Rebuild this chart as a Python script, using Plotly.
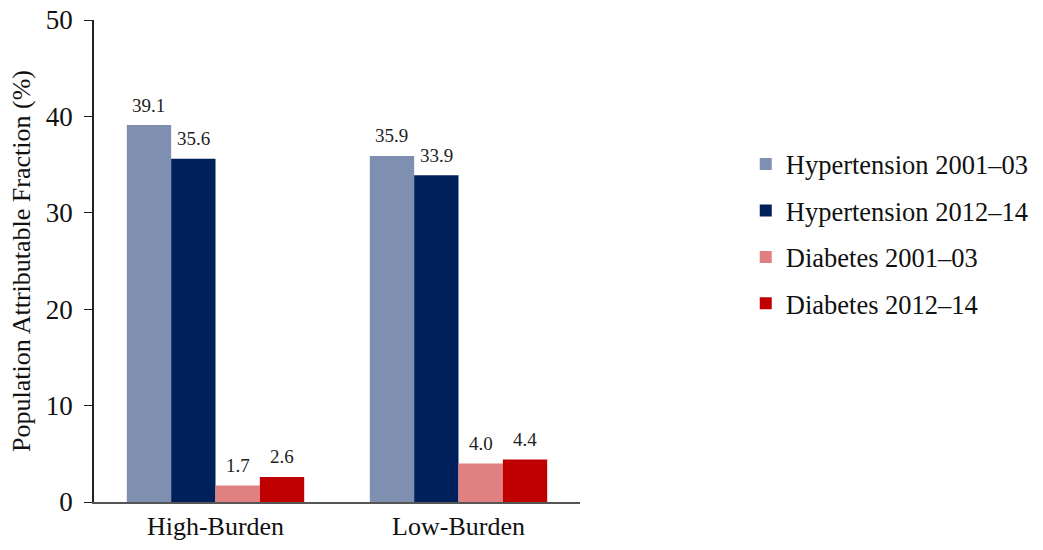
import plotly.graph_objects as go

categories = ["High-Burden", "Low-Burden"]
series_names = ["Hypertension 2001\u201303", "Hypertension 2012\u201314",
                "Diabetes 2001\u201303", "Diabetes 2012\u201314"]
hyp_2001 = [39.1, 35.9]
hyp_2012 = [35.6, 33.9]
dia_2001 = [1.7, 4.0]
dia_2012 = [2.6, 4.4]
colors = ["#7f8fb0", "#00205b", "#e08080", "#c00000"]
y_ticks = [0, 10, 20, 30, 40, 50]

FONT = "Liberation Serif, Times New Roman, serif"
PLOT_W = 1043 - 94 - 463
BARGAP = 0.27
bar_px = PLOT_W / len(categories) * (1 - BARGAP) / len(series_names)

fig = go.Figure()
all_series = [hyp_2001, hyp_2012, dia_2001, dia_2012]
for i, (name, vals) in enumerate(zip(series_names, all_series)):
    fig.add_trace(go.Bar(
        x=categories, y=vals, name=name, legendgroup=name,
        marker=dict(color=colors[i], line=dict(width=0)),
        cliponaxis=False,
    ))
    # value labels floating above each bar
    for cat, v in zip(categories, vals):
        fig.add_annotation(
            x=cat, y=v, xref="x", yref="y",
            text=f"{v:.1f}", showarrow=False,
            xshift=(i - 1.5) * bar_px, yshift=20,
            yanchor="middle",
            font=dict(family=FONT, size=19, color="#222"),
        )

fig.update_layout(
    barmode="group",
    bargap=BARGAP,
    bargroupgap=0,
    width=1043, height=550,
    margin=dict(l=94, r=463, t=20, b=48),
    paper_bgcolor="white", plot_bgcolor="white",
    font=dict(family=FONT, color="#111"),
    legend=dict(
        xref="container", yref="container",
        x=0.715, y=0.745, xanchor="left", yanchor="top",
        font=dict(family=FONT, size=26.5, color="#111"),
        tracegroupgap=9, itemwidth=30,
    ),
    xaxis=dict(
        automargin=False,
        showline=True, linecolor="#555", linewidth=2,
        ticks="", tickfont=dict(family=FONT, size=26, color="#111"),
        showgrid=False,
    ),
    yaxis=dict(
        automargin=False,
        range=[0, 50], tickvals=y_ticks,
        showline=True, linecolor="#222", linewidth=1.5,
        ticks="outside", ticklen=8, tickcolor="#222",
        ticklabelstandoff=6,
        tickfont=dict(family=FONT, size=27, color="#111"),
        showgrid=False, zeroline=False,
        title=dict(text="Population Attributable Fraction (%)",
                   font=dict(family=FONT, size=26, color="#111"), standoff=8),
    ),
)

fig.write_html("out.html")
